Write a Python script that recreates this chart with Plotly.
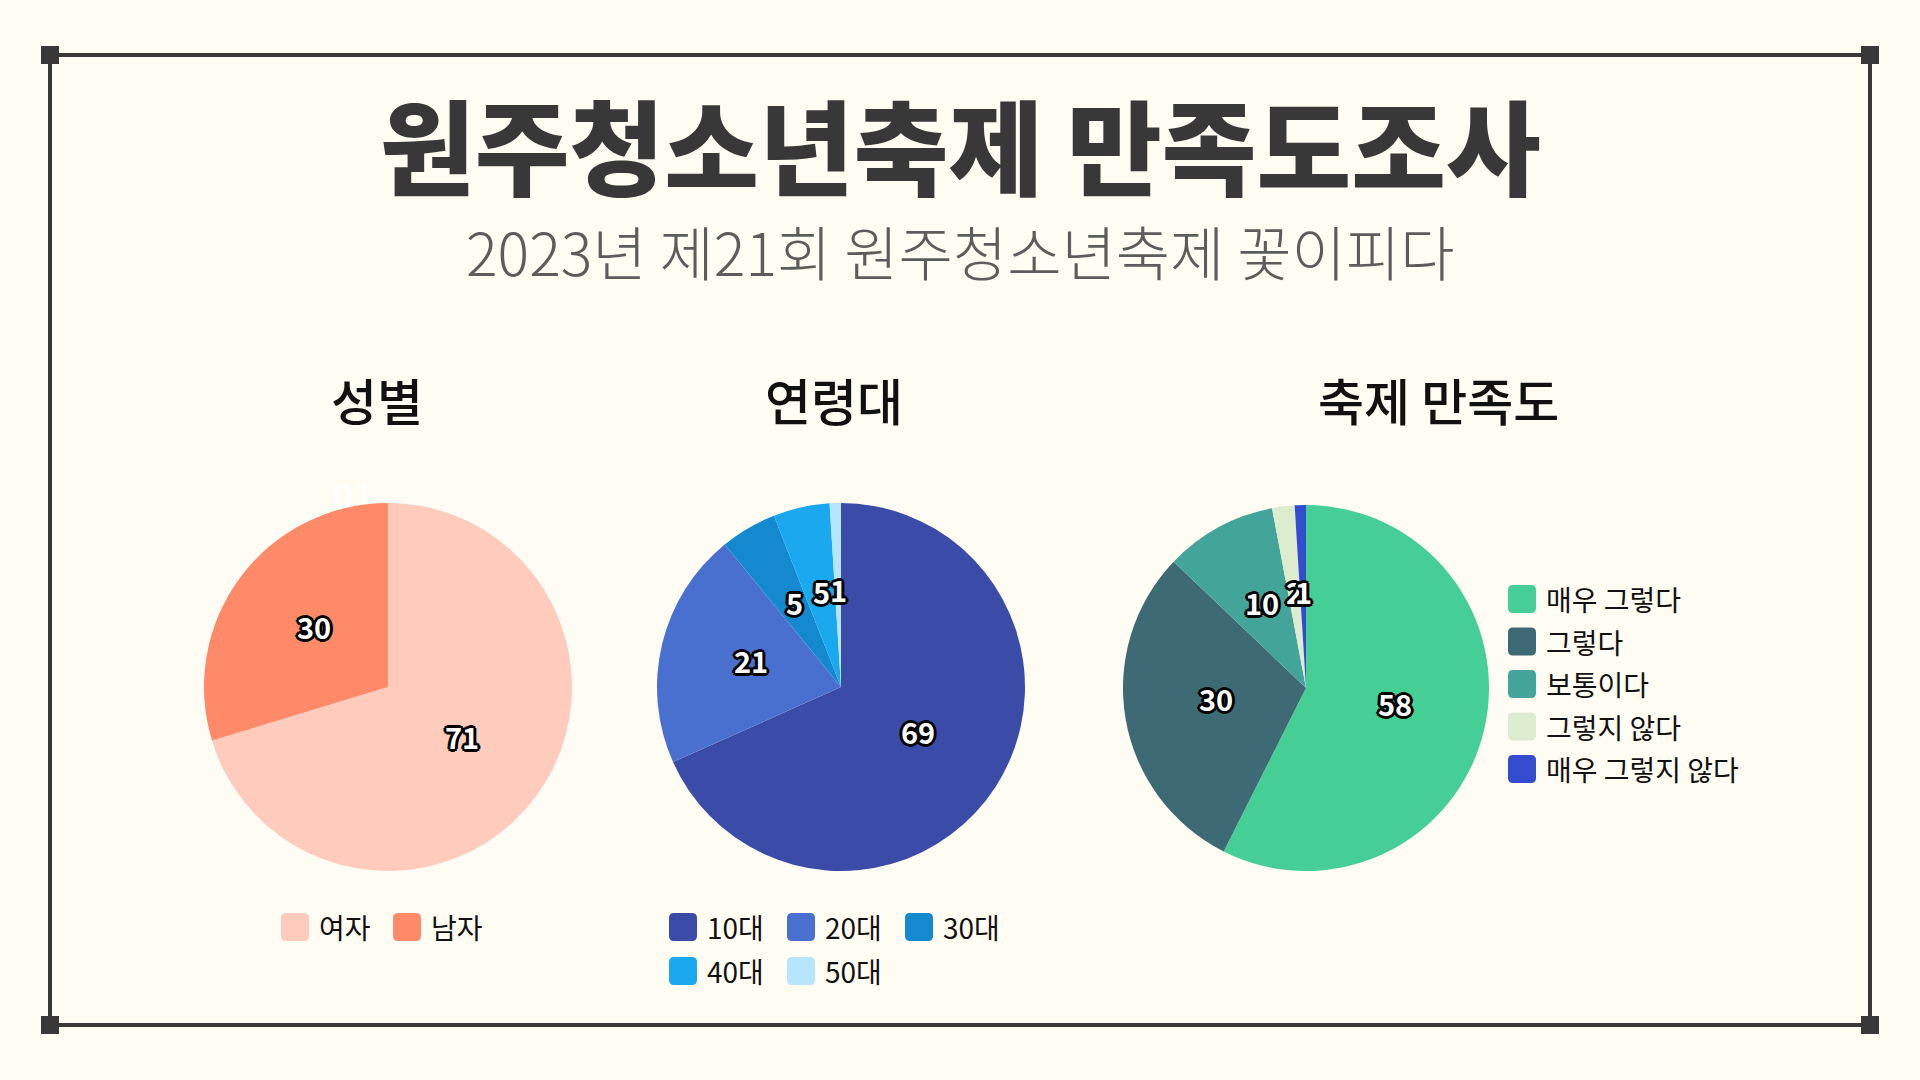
"""원주청소년축제 만족도조사 - three pies (성별 / 연령대 / 축제 만족도) on a framed poster."""
import math

import plotly.graph_objects as go

# data
gender_labels = ["여자", "남자"]
gender_values = [71, 30]
gender_colors = ["#FFCBBD", "#FF8A6A"]

age_labels = ["10대", "20대", "30대", "40대", "50대"]
age_values = [69, 21, 5, 5, 1]
age_colors = ["#3B4CA8", "#4A70CF", "#1489CF", "#1AA8EE", "#B7E5FB"]

sat_labels = ["매우 그렇다", "그렇다", "보통이다", "그렇지 않다", "매우 그렇지 않다"]
sat_values = [58, 30, 10, 2, 1]
sat_colors = ["#46CF95", "#3D6A74", "#43A59A", "#DDEBCF", "#344CD0"]

TITLE = "원주청소년축제 만족도조사"
SUBTITLE = "2023년 제21회 원주청소년축제 꽃이피다"
PANEL_TITLES = ["성별", "연령대", "축제 만족도"]

W, H = 1920, 1080
BG = "#FFFCF4"
INK = "#383838"
FONT = "Noto Sans CJK KR"
OUTLINE = ", ".join(
    f"{dx}px {dy}px 0 #000"
    for dx, dy in [(2, 0), (-2, 0), (0, 2), (0, -2), (2, 2), (-2, -2), (2, -2), (-2, 2),
                   (3, 0), (-3, 0), (0, 3), (0, -3)]
)


def px(x):
    return x / W


def py(y):
    return 1 - y / H


def text(x, y, s, font, xanchor="center"):
    return dict(x=px(x), y=py(y), xref="paper", yref="paper", text=s, showarrow=False,
                xanchor=xanchor, yanchor="middle", font=font)


fig = go.Figure()
annotations = []
shapes = []

# (labels, values, colors, centre x, centre y, radius) in page pixels
pies = [
    (gender_labels, gender_values, gender_colors, 388, 687, 184),
    (age_labels, age_values, age_colors, 841, 687, 184),
    (sat_labels, sat_values, sat_colors, 1306, 688, 183),
]

for labels, values, colors, cx, cy, r in pies:
    fig.add_trace(go.Pie(
        labels=labels, values=values, sort=False, direction="clockwise", rotation=0,
        marker=dict(colors=colors, line=dict(width=0)),
        textinfo="none", hoverinfo="skip", showlegend=False,
        domain=dict(x=[px(cx - r), px(cx + r)], y=[py(cy + r), py(cy - r)]),
    ))
    # value labels at half radius on each slice bisector (-6px: digits sit low in the box)
    total = sum(values)
    cum = 0
    for v in values:
        mid = (cum + v / 2) / total * 2 * math.pi
        cum += v
        annotations.append(text(
            cx + 0.5 * r * math.sin(mid), cy - 0.5 * r * math.cos(mid) - 6, str(v),
            dict(family=FONT, size=29, color="white", weight=700, shadow=OUTLINE),
        ))


def add_legend(labels, colors, x0, y0, ncols, col_w, row_h):
    s = 28
    for i, (lab, col) in enumerate(zip(labels, colors)):
        x = x0 + (i % ncols) * col_w
        y = y0 + (i // ncols) * row_h
        a, b, c, d = px(x - s / 2), px(x + s / 2), py(y - s / 2), py(y + s / 2)
        kx, ky = 5 / W, 5 / H
        path = (f"M{a + kx},{c} L{b - kx},{c} Q{b},{c} {b},{c - ky} L{b},{d + ky} "
                f"Q{b},{d} {b - kx},{d} L{a + kx},{d} Q{a},{d} {a},{d + ky} "
                f"L{a},{c - ky} Q{a},{c} {a + kx},{c} Z")
        shapes.append(dict(type="path", xref="paper", yref="paper", path=path,
                           fillcolor=col, line=dict(width=0)))
        annotations.append(text(x + 22, y, lab, dict(family=FONT, size=28, color="#111111"),
                                xanchor="left"))


add_legend(gender_labels, gender_colors, 295, 927, 2, 112, 44)
add_legend(age_labels, age_colors, 683, 927, 3, 118, 44)
add_legend(sat_labels, sat_colors, 1522, 599, 1, 0, 42.5)

# headings
annotations.append(text(960, 143, TITLE, dict(family=FONT, size=103, color=INK, weight=900)))
annotations.append(text(960, 250, SUBTITLE, dict(family=FONT, size=59, color="#5C5C5C", weight=300)))
for t, x in zip(PANEL_TITLES, [377, 834, 1438]):
    annotations.append(text(x, 399, t, dict(family=FONT, size=50, color="#111111", weight=500)))

# faint "01" tucked behind the first pie
shapes.append(dict(type="rect", xref="paper", yref="paper", layer="below",
                   x0=px(320), x1=px(386), y0=py(520), y1=py(478), line=dict(width=0),
                   label=dict(text="<b>01</b>", font=dict(family=FONT, size=34, color="white"))))

# frame with corner squares
L, R, T, B = 50, 1870, 55, 1025
for x0, y0, x1, y1 in [(L, T, R, T), (L, B, R, B), (L, T, L, B), (R, T, R, B)]:
    shapes.append(dict(type="line", xref="paper", yref="paper", x0=px(x0), y0=py(y0),
                       x1=px(x1), y1=py(y1), line=dict(color=INK, width=4)))
for x, y in [(L, T), (R, T), (L, B), (R, B)]:
    shapes.append(dict(type="rect", xref="paper", yref="paper", x0=px(x - 9), x1=px(x + 9),
                       y0=py(y + 9), y1=py(y - 9), fillcolor=INK, line=dict(width=0)))

fig.update_layout(
    width=W, height=H, margin=dict(l=0, r=0, t=0, b=0),
    paper_bgcolor=BG, plot_bgcolor=BG,
    annotations=annotations, shapes=shapes,
    font=dict(family=FONT),
)

# drop the browser's default body margin so the poster sits flush in the window
fig.write_html("out.html", config={"displayModeBar": False},
               post_script=f"document.body.style.margin='0';"
                           f"document.body.style.background='{BG}';")
